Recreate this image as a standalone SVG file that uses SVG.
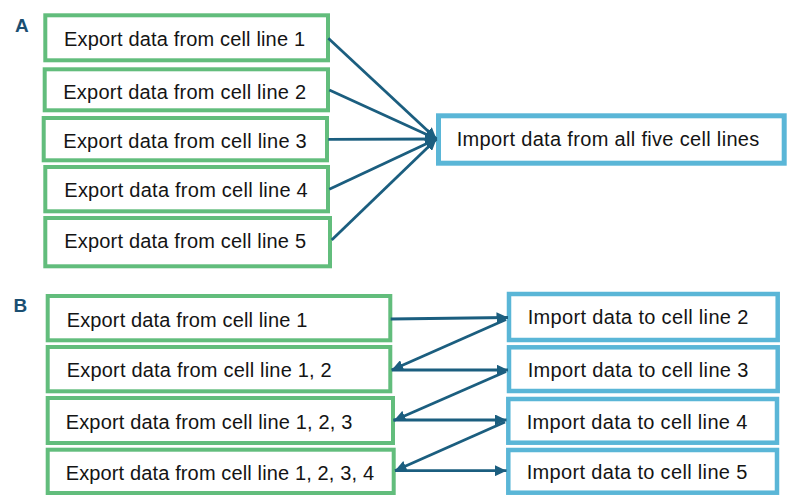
<svg xmlns="http://www.w3.org/2000/svg" width="787" height="496" viewBox="0 0 787 496">
<style>
.g{fill:#fff;stroke:#62bd7c;stroke-width:4}
.b{fill:#fff;stroke:#5ab6d7;stroke-width:4.5}
.t{font-family:"Liberation Sans",Arial,sans-serif;font-size:20px;fill:#141414}
.lab{font-family:"Liberation Sans",Arial,sans-serif;font-size:19px;font-weight:bold;fill:#1b4f72}
.c line{stroke:#1b5e7f;stroke-width:2.8;marker-end:url(#ah)}
</style>
<defs>
<marker id="ah" markerUnits="userSpaceOnUse" markerWidth="12" markerHeight="11" refX="11.5" refY="5.5" orient="auto">
<path d="M0,0 L11.5,5.5 L0,11 z" fill="#1b5e7f"/>
</marker>
</defs>
<rect width="787" height="496" fill="#fff"/>
<text class="lab" x="15" y="32">A</text>
<text class="lab" x="13.5" y="311.8">B</text>

<g id="a-exp1"><rect class="g" x="45.3" y="15.3" width="282.7" height="45"/><text class="t" x="64" y="45.7" textLength="241">Export data from cell line 1</text></g>
<g id="a-exp2"><rect class="g" x="44.7" y="69.3" width="283.3" height="41"/><text class="t" x="63.3" y="99" textLength="242.7">Export data from cell line 2</text></g>
<g id="a-exp3"><rect class="g" x="43.7" y="118" width="283.3" height="42.3"/><text class="t" x="63.3" y="148.3" textLength="243.4">Export data from cell line 3</text></g>
<g id="a-exp4"><rect class="g" x="45.3" y="167" width="282.7" height="44.3"/><text class="t" x="64.3" y="196.7" textLength="243.4">Export data from cell line 4</text></g>
<g id="a-exp5"><rect class="g" x="45.3" y="218" width="284.7" height="48.3"/><text class="t" x="64.3" y="247.7" textLength="241.7">Export data from cell line 5</text></g>
<g id="a-imp"><rect class="b" x="438.5" y="115.8" width="345.7" height="47.4" style="stroke-width:5"/><text class="t" x="456.7" y="146" textLength="302.6">Import data from all five cell lines</text></g>

<g id="b-exp1"><rect class="g" x="47.7" y="296" width="342.6" height="44.3"/><text class="t" x="66.7" y="326.7" textLength="240.6">Export data from cell line 1</text></g>
<g id="b-exp2"><rect class="g" x="47.7" y="347" width="342.6" height="44.3"/><text class="t" x="66.7" y="377.3" textLength="265">Export data from cell line 1, 2</text></g>
<g id="b-exp3"><rect class="g" x="47.7" y="398" width="345.3" height="45"/><text class="t" x="65.7" y="429" textLength="286.6">Export data from cell line 1, 2, 3</text></g>
<g id="b-exp4"><rect class="g" x="47.7" y="449.7" width="346" height="43.3"/><text class="t" x="65.7" y="480" textLength="308.3">Export data from cell line 1, 2, 3, 4</text></g>

<g id="b-imp2"><rect class="b" x="509" y="294" width="268.7" height="46"/><text class="t" x="527.7" y="324" textLength="220.6">Import data to cell line 2</text></g>
<g id="b-imp3"><rect class="b" x="509" y="347.3" width="268.7" height="43.7"/><text class="t" x="527.7" y="377.3" textLength="220.6">Import data to cell line 3</text></g>
<g id="b-imp4"><rect class="b" x="508.3" y="399" width="268.7" height="43.7"/><text class="t" x="526.7" y="429" textLength="220.6">Import data to cell line 4</text></g>
<g id="b-imp5"><rect class="b" x="508.3" y="450" width="268.7" height="42.7"/><text class="t" x="526.7" y="479" textLength="220.6">Import data to cell line 5</text></g>

<g id="connectors" class="c">
<line x1="328.3" y1="38.3" x2="436.5" y2="139"/>
<line x1="329.3" y1="90" x2="436.5" y2="139"/>
<line x1="328.3" y1="139.3" x2="436.5" y2="139"/>
<line x1="329.3" y1="189.3" x2="436.5" y2="139"/>
<line x1="331.7" y1="240" x2="436.5" y2="139"/>
<line x1="390.7" y1="319" x2="508" y2="317.5"/>
<line x1="391.7" y1="370" x2="508" y2="370"/>
<line x1="393.3" y1="420" x2="506.5" y2="420"/>
<line x1="395" y1="470.7" x2="506.5" y2="470.7"/>
<line x1="506" y1="319.5" x2="391.7" y2="370"/>
<line x1="506" y1="371.5" x2="394" y2="420.5"/>
<line x1="505" y1="422" x2="395" y2="470.7"/>
</g>
</svg>
